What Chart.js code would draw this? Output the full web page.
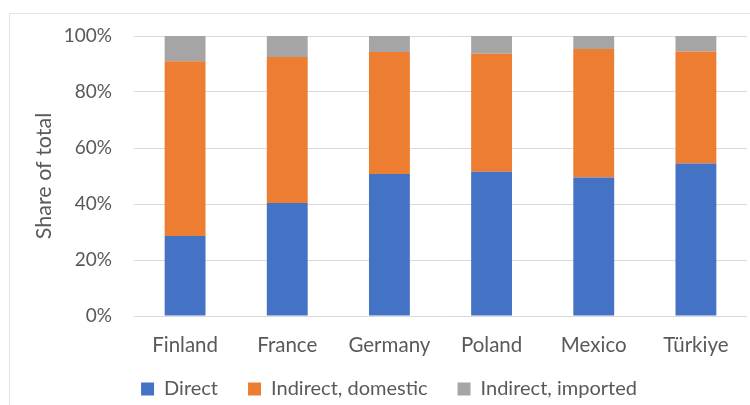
<!DOCTYPE html>
<html>
<head>
<meta charset="utf-8">
<script src="https://cdn.jsdelivr.net/npm/chart.js@4/dist/chart.umd.min.js"></script>
<style>
    html, body { margin: 0; padding: 0; background: #fff; overflow: hidden; }
    #frame { position: absolute; left: 9px; top: 13px; width: 800px; height: 500px; border: 1px solid #e3e3e3; }
    #wrap { position: absolute; left: 0; top: 0; width: 750px; height: 405px; }
</style>
</head>
<body>
<div id="frame"></div>
<div id="wrap"><canvas id="shareChart" width="750" height="405"></canvas></div>
<script>
const countries = ['Finland', 'France', 'Germany', 'Poland', 'Mexico', 'Türkiye'];
const direct = [28.6, 40.4, 50.7, 51.5, 49.5, 54.5];
const indirectDomestic = [62.4, 52.1, 43.6, 42.2, 45.9, 40.0];
const indirectImported = [9.0, 7.5, 5.7, 6.3, 4.6, 5.5];
const yTicks = [0, 20, 40, 60, 80, 100];

const textColor = '#595959';
const fontFamily = 'Lato, "Open Sans", sans-serif';

// move the legend to where it sits in the original,
// and let the x labels run below their (short) axis box without clipping
const layoutTweak = {
    id: 'layoutTweak',
    afterLayout(chart) {
        const lg = chart.legend;
        lg.left = 6;
        lg.right = 772;
        lg.top += 4;
        lg.bottom += 4;
        chart.scales.x.bottom = chart.height;
    }
};

window.onload = () => {
    const ctx = document.getElementById('shareChart').getContext('2d');
    new Chart(ctx, {
        type: 'bar',
        data: {
            labels: countries,
            datasets: [
                { label: 'Direct', data: direct, backgroundColor: '#4472C4' },
                { label: 'Indirect, domestic', data: indirectDomestic, backgroundColor: '#ED7D31' },
                { label: 'Indirect, imported', data: indirectImported, backgroundColor: '#A5A5A5' }
            ]
        },
        options: {
            responsive: false,
            animation: false,
            layout: { padding: { top: 36, right: 3, bottom: 0, left: 20 } },
            datasets: { bar: { categoryPercentage: 1, barPercentage: 0.4 } },
            plugins: {
                tooltip: { enabled: false },
                legend: {
                    position: 'bottom',
                    labels: {
                        boxWidth: 13,
                        boxHeight: 13,
                        padding: 30,
                        color: textColor,
                        font: { family: fontFamily, size: 20 }
                    }
                }
            },
            scales: {
                x: {
                    stacked: true,
                    grid: { display: false, drawTicks: false },
                    border: { display: false },
                    ticks: { padding: 17, color: textColor, font: { family: fontFamily, size: 20.5 } },
                    afterFit: (scale) => { scale.height = 29; }
                },
                y: {
                    stacked: true,
                    min: 0,
                    max: 100,
                    afterBuildTicks: (scale) => { scale.ticks = yTicks.map(v => ({ value: v })); },
                    grid: { color: '#d9d9d9', lineWidth: 1, drawTicks: false },
                    border: { display: false },
                    ticks: {
                        padding: 22,
                        color: textColor,
                        font: { family: fontFamily, size: 19 },
                        callback: (v) => v + '%'
                    },
                    title: {
                        display: true,
                        text: 'Share of total',
                        color: textColor,
                        padding: { top: 11, bottom: 0 },
                        font: { family: fontFamily, size: 21.5 }
                    },
                    afterFit: (scale) => { scale.width = 114; }
                }
            }
        },
        plugins: [layoutTweak]
    });
};
</script>
</body>
</html>
